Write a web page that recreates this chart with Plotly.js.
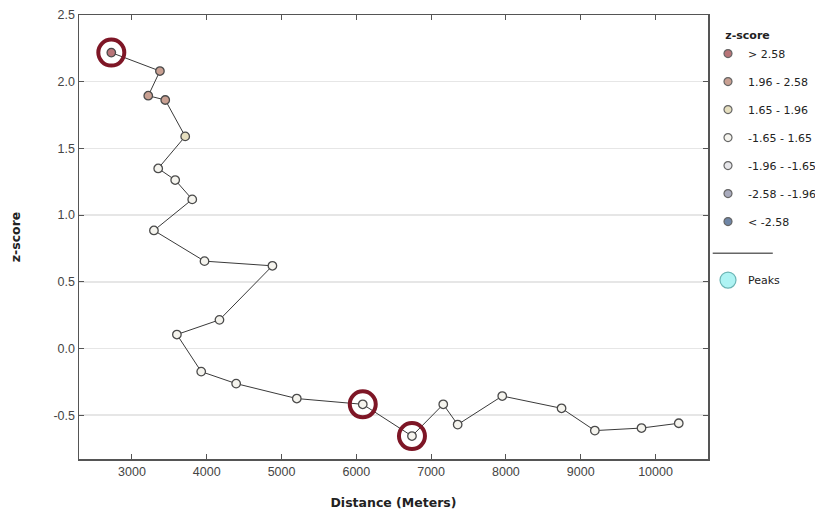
<!DOCTYPE html>
<html>
<head>
<meta charset="utf-8">
<script src="https://cdn.plot.ly/plotly-3.0.1.min.js"></script>
<style>html,body{margin:0;padding:0;background:#fff;}#chart{width:815px;height:510px;}</style>
</head>
<body>
<div id="chart"></div>
<script>
// Data
const distance = [2724, 3374, 3218, 3445, 3712, 3351, 3578, 3806, 3294, 3970, 4878, 4170, 3601, 3926, 4393, 5204, 6086, 6744, 7162, 7355, 7951, 8744, 9189, 9813, 10311];
const zscore   = [2.218, 2.080, 1.895, 1.863, 1.590, 1.350, 1.263, 1.118, 0.885, 0.655, 0.620, 0.215, 0.105, -0.173, -0.263, -0.375, -0.418, -0.656, -0.418, -0.570, -0.356, -0.448, -0.615, -0.596, -0.560];
const pointClass = [0, 1, 1, 1, 2, 3, 3, 3, 3, 3, 3, 3, 3, 3, 3, 3, 3, 3, 3, 3, 3, 3, 3, 3, 3];
const classLabels = ['> 2.58', '1.96 - 2.58', '1.65 - 1.96', '-1.65 - 1.65', '-1.96 - -1.65', '-2.58 - -1.96', '< -2.58'];
const classColors = ['#b87478', '#c9a092', '#e6dfbf', '#f5f4ee', '#e6e6ea', '#a9abbd', '#6f86a6'];
const peakDistance = [2724, 6086, 6744];
const peakZ = [2.218, -0.418, -0.656];
const xTicks = [3000, 4000, 5000, 6000, 7000, 8000, 9000, 10000];
const yTicks = [-0.5, 0.0, 0.5, 1.0, 1.5, 2.0, 2.5];

const traces = [];
traces.push({
  x: distance, y: zscore, type: 'scatter', mode: 'lines+markers',
  line: {color: '#3a3a3a', width: 1},
  marker: {size: 8.5, color: pointClass.map(c => classColors[c]), line: {color: '#4a4a4a', width: 1.3}},
  showlegend: false, hoverinfo: 'x+y'
});
traces.push({
  x: peakDistance, y: peakZ, type: 'scatter', mode: 'markers',
  marker: {size: 26, color: 'rgba(0,0,0,0)', line: {color: '#7e1626', width: 4}},
  showlegend: false
});
classLabels.forEach((lab, i) => {
  traces.push({
    x: [null], y: [null], type: 'scatter', mode: 'markers', name: lab,
    legendgroup: 'g' + i, legend: 'legend',
    marker: {size: 8, color: classColors[i], line: {color: '#666', width: 1.2}}
  });
});
traces.push({
  x: [null], y: [null], type: 'scatter', mode: 'markers', name: 'Peaks',
  legend: 'legend2',
  marker: {size: 17, color: '#aef3f3', line: {color: '#6bb5b5', width: 1.2}}
});

const tickFont = {family: 'Liberation Sans, Arial, sans-serif', size: 12.5, color: '#444'};
const layout = {
  width: 815, height: 510,
  margin: {l: 79, r: 107, t: 15, b: 51, autoexpand: false},
  paper_bgcolor: '#fff', plot_bgcolor: '#fff',
  showlegend: true,
  xaxis: {
    range: [2292, 10702], tickvals: xTicks, ticktext: xTicks.map(String),
    showgrid: false, zeroline: false,
    showline: true, linecolor: '#555', linewidth: 1.5, mirror: 'ticks',
    ticks: 'inside', ticklen: 5, tickcolor: '#555', tickfont: tickFont,
    title: {text: 'Distance (Meters)', font: {family: 'DejaVu Sans', size: 12.5, color: '#222', weight: 'bold'}, standoff: 20},
    automargin: false
  },
  yaxis: {
    range: [-0.828, 2.5], tickvals: yTicks, ticktext: yTicks.map(v => v.toFixed(1)),
    showgrid: true, gridcolor: '#e6e6e6', gridwidth: 1.5, zeroline: false,
    showline: true, linecolor: '#555', linewidth: 1.5, mirror: 'ticks',
    ticks: 'inside', ticklen: 5, tickcolor: '#555', tickfont: tickFont,
    title: {text: 'z-score', font: {family: 'DejaVu Sans', size: 12.5, color: '#222', weight: 'bold'}, standoff: 30},
    automargin: false
  },
  legend: {
    x: 1.0, xanchor: 'left', y: 0.978, yanchor: 'top',
    traceorder: 'grouped', tracegroupgap: 9,
    font: {family: 'DejaVu Sans', size: 11, color: '#222'},
    title: {text: '\u00a0\u00a0\u00a0\u00a0z-score', font: {family: 'DejaVu Sans', size: 11, color: '#222', weight: 'bold'}},
    bgcolor: 'rgba(0,0,0,0)', itemclick: false
  },
  legend2: {
    x: 1.0, xanchor: 'left', y: 0.403, yanchor: 'middle',
    font: {family: 'DejaVu Sans', size: 11, color: '#222'},
    bgcolor: 'rgba(0,0,0,0)', itemclick: false
  },
  shapes: [{
    type: 'line', xref: 'paper', yref: 'paper',
    x0: 1.0075, x1: 1.103, y0: 0.4636, y1: 0.4636,
    line: {color: '#666', width: 1.5}
  }]
};
Plotly.newPlot('chart', traces, layout, {displayModeBar: false, staticPlot: true});
</script>
</body>
</html>
